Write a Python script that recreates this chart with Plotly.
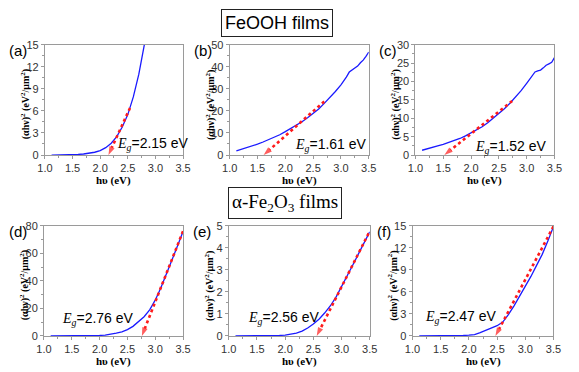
import plotly.graph_objects as go

# ---------------- data ----------------
hv_a = [1.12, 1.2, 1.3, 1.4, 1.5, 1.6, 1.7, 1.8, 1.9, 2.0, 2.1, 2.2, 2.3, 2.4, 2.5, 2.6, 2.7, 2.8]
ahv_a = [0.0, 0.0, 0.01, 0.02, 0.04, 0.08, 0.14, 0.24, 0.38, 0.6, 1.0, 1.6, 2.5, 3.8, 5.5, 7.9, 11.0, 15.0]

hv_bc = [1.12, 1.2, 1.3, 1.4, 1.5, 1.6, 1.7, 1.8, 1.9, 2.0, 2.1, 2.2, 2.3, 2.4, 2.5, 2.6, 2.7,
         2.8, 2.9, 3.0, 3.05, 3.1, 3.15, 3.2, 3.25, 3.3, 3.35, 3.4, 3.45, 3.5]
ahv_b = [1.9, 2.5, 3.3, 4.1, 4.9, 5.9, 6.9, 8.0, 9.2, 10.6, 12.0, 13.5, 15.1, 16.9, 18.8, 20.9, 23.4,
         26.0, 28.8, 31.8, 33.5, 35.4, 37.6, 38.5, 39.1, 40.3, 41.8, 43.0, 44.7, 46.7]
ahv_c = [1.3, 1.7, 2.1, 2.5, 2.9, 3.4, 3.9, 4.5, 5.2, 6.0, 6.8, 7.7, 8.8, 10.0, 11.3, 12.6, 14.1,
         15.7, 17.5, 19.5, 20.6, 21.7, 22.6, 22.9, 23.1, 23.7, 24.4, 24.8, 25.2, 26.5]

hv_de = [1.12, 1.2, 1.3, 1.4, 1.5, 1.6, 1.7, 1.8, 1.9, 2.0, 2.1, 2.2, 2.3, 2.4, 2.5, 2.6, 2.7,
         2.8, 2.9, 3.0, 3.1, 3.2, 3.3, 3.4, 3.5]
ahv_d = [0.0, 0.0, 0.0, 0.0, 0.02, 0.05, 0.1, 0.16, 0.25, 0.4, 0.7, 1.2, 2.0, 3.0, 4.6, 7.0, 10.2,
         14.0, 19.0, 26.0, 34.8, 44.6, 54.8, 65.2, 75.8]
ahv_e = [0.0, 0.0, 0.0, 0.0, 0.0, 0.005, 0.01, 0.015, 0.025, 0.04, 0.07, 0.13, 0.22, 0.36, 0.54,
         0.76, 1.04, 1.36, 1.75, 2.22, 2.72, 3.22, 3.72, 4.22, 4.72]

hv_f = [1.12, 1.2, 1.3, 1.4, 1.5, 1.6, 1.7, 1.8, 1.9, 2.0, 2.1, 2.2, 2.3, 2.4, 2.5, 2.6, 2.65,
        2.7, 2.8, 2.9, 3.0, 3.1, 3.2, 3.3, 3.4, 3.5]
ahv_f = [0.0, 0.0, 0.0, 0.0, 0.0, 0.01, 0.02, 0.04, 0.07, 0.11, 0.2, 0.45, 0.75, 1.05, 1.4, 1.9, 2.4,
         2.9, 4.1, 5.4, 6.7, 8.1, 9.6, 11.1, 12.9, 14.9]

# band gap values and tangent-line top points (x, y)
eg_values = [2.15, 1.61, 1.52, 2.76, 2.56, 2.47]
tangent_top_x = [2.54, 2.70, 2.74, 3.50, 3.48, 3.50]
tangent_top_y = [6.4, 24.3, 14.7, 76.0, 4.65, 14.9]

panel_labels = ["(a)", "(b)", "(c)", "(d)", "(e)", "(f)"]
y_max = [15, 50, 30, 80, 5, 15]
y_dtick = [3, 10, 5, 20, 1, 3]
x_ticks = [1.0, 1.5, 2.0, 2.5, 3.0, 3.5]
x_ticktext = ["1.0", "1.5", "2.0", "2.5", "3.0", "3.5"]

# label anchor positions in data coords (left, middle)
eg_label_x = [2.26, 2.14, 2.03, 1.28, 1.31, 1.19]
eg_label_y = [1.45, 4.4, 2.1, 12.6, 0.81, 2.57]

title_top = "FeOOH films"
title_bottom = "α-Fe<sub>2</sub>O<sub>3</sub> films"
y_title = "(αhν)<sup>2</sup> (eV<sup>2</sup>/μm<sup>2</sup>)"
x_title = "hυ (eV)"

curves = [(hv_a, ahv_a), (hv_bc, ahv_b), (hv_bc, ahv_c), (hv_de, ahv_d), (hv_de, ahv_e), (hv_f, ahv_f)]

# ---------------- layout geometry (pixels) ----------------
W, H = 579, 372
boxes = [(38, 180, 40, 154), (228, 371, 40, 154), (419, 562, 40, 154),
         (37, 180, 227, 341), (227, 372, 227, 341), (416, 561, 227, 341)]

def px_x(p):
    return p / W

def px_y(p):
    return 1 - p / H

fig = go.Figure()
layout = dict(width=W, height=H, autosize=False, margin=dict(l=0, r=0, t=0, b=0),
              paper_bgcolor="white", plot_bgcolor="white", showlegend=False)

AX_COLOR = "#9a9a9a"
annotations = []

for i in range(6):
    n = "" if i == 0 else str(i + 1)
    xa, ya = "x" + n, "y" + n
    x0, x1, y0, y1 = boxes[i]
    common = dict(showline=True, linecolor=AX_COLOR, linewidth=1, mirror=True,
                  ticks="outside", ticklen=3, tickcolor=AX_COLOR, tickwidth=1,
                  showgrid=False, zeroline=False,
                  tickfont=dict(family="Liberation Sans, Arial", size=11, color="#333333"))
    layout["xaxis" + n] = dict(domain=[px_x(x0), px_x(x1)], range=[1.0, 3.5], anchor=ya,
                               tickvals=x_ticks, ticktext=x_ticktext,
                               minor=dict(ticks="outside", ticklen=2, tickcolor=AX_COLOR,
                                          tickvals=[1.25, 1.75, 2.25, 2.75, 3.25]),
                               **common)
    layout["yaxis" + n] = dict(domain=[px_y(y1), px_y(y0)], range=[0, y_max[i]], anchor=xa,
                               dtick=y_dtick[i], tick0=0,
                               minor=dict(ticks="outside", ticklen=2, tickcolor=AX_COLOR,
                                          dtick=y_dtick[i] / 2, tick0=0),
                               **common)

    hx, hy = curves[i]
    fig.add_trace(go.Scatter(x=hx, y=hy, mode="lines", xaxis=xa, yaxis=ya,
                             line=dict(color="#1a1aff", width=1.3), hoverinfo="skip"))
    fig.add_trace(go.Scatter(x=[tangent_top_x[i], eg_values[i]], y=[tangent_top_y[i], 0],
                             mode="lines+markers", xaxis=xa, yaxis=ya,
                             line=dict(color="#ff1a1a", width=2.6, dash="dot"),
                             marker=dict(symbol=["circle", "arrow"], size=[0, 9],
                                         angleref="previous", color="#ff1a1a",
                                         line=dict(width=0)),
                             hoverinfo="skip"))

    annotations.append(dict(xref=xa, yref=ya, x=eg_label_x[i], y=eg_label_y[i],
                            xanchor="left", yanchor="middle", showarrow=False,
                            text="<span style='font-family:Liberation Serif'><i>E<sub>g</sub></i></span>=%.2f eV" % eg_values[i],
                            font=dict(family="Liberation Sans, Arial", size=14, color="black")))
    # panel label
    annotations.append(dict(xref="paper", yref="paper", x=px_x(max(x0 - 38, 0)), y=px_y(y0 + 6),
                            xanchor="left", yanchor="middle", showarrow=False, borderpad=0,
                            text=panel_labels[i],
                            font=dict(family="Liberation Sans, Arial", size=15, color="black")))
    # y title
    annotations.append(dict(xref="paper", yref="paper", x=px_x(x0 - 20), y=px_y((y0 + y1) / 2 + 5),
                            xanchor="center", yanchor="middle", showarrow=False, textangle=-90,
                            text="<b>" + y_title + "</b>",
                            font=dict(family="Liberation Serif, Times New Roman", size=10, color="black")))
    # x title
    annotations.append(dict(xref="paper", yref="paper", x=px_x((x0 + x1) / 2), y=px_y(y1 + 26),
                            xanchor="center", yanchor="middle", showarrow=False, borderpad=0,
                            text="<b>" + x_title + "</b>",
                            font=dict(family="Liberation Serif, Times New Roman", size=11, color="black")))

annotations.append(dict(xref="paper", yref="paper", x=px_x(277), y=px_y(17.5),
                        xanchor="center", yanchor="middle", showarrow=False,
                        text=title_top, bordercolor="#222222", borderwidth=1, borderpad=3,
                        font=dict(family="Liberation Sans, Arial", size=18, color="black")))
annotations.append(dict(xref="paper", yref="paper", x=px_x(284.5), y=px_y(204),
                        xanchor="center", yanchor="middle", showarrow=False,
                        text=title_bottom, bordercolor="#222222", borderwidth=1, borderpad=3,
                        font=dict(family="Liberation Serif, Times New Roman", size=19, color="black")))

layout["annotations"] = annotations
fig.update_layout(**layout)
fig.write_html("out.html", config={"displayModeBar": False},
               post_script="document.body.style.margin='0';document.body.style.padding='0';")
